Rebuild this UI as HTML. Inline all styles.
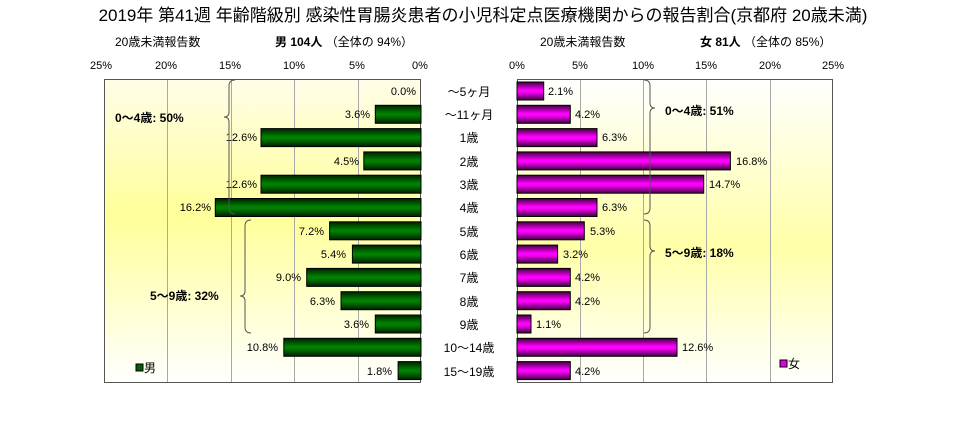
<!DOCTYPE html>
<html><head><meta charset="utf-8"><style>
body{margin:0;background:#fff;}
svg text{font-family:"Liberation Sans","Noto Sans CJK JP",sans-serif;}
</style></head><body>
<svg width="967" height="417" xmlns="http://www.w3.org/2000/svg">
<defs>
<linearGradient id="bgL" x1="0" y1="0" x2="0" y2="1">
<stop offset="0" stop-color="#fffde8"/><stop offset="0.45" stop-color="#ffff99"/><stop offset="1" stop-color="#ffffff"/>
</linearGradient>
<linearGradient id="bgR" x1="0" y1="0" x2="0" y2="1">
<stop offset="0" stop-color="#ffffff"/><stop offset="0.55" stop-color="#ffffa8"/><stop offset="1" stop-color="#ffffff"/>
</linearGradient>
<linearGradient id="gG" x1="0" y1="0" x2="0" y2="1">
<stop offset="0" stop-color="#002000"/><stop offset="0.45" stop-color="#008000"/><stop offset="0.55" stop-color="#008000"/><stop offset="1" stop-color="#002000"/>
</linearGradient>
<linearGradient id="gM" x1="0" y1="0" x2="0" y2="1">
<stop offset="0" stop-color="#400040"/><stop offset="0.45" stop-color="#ff00ff"/><stop offset="0.55" stop-color="#ff00ff"/><stop offset="1" stop-color="#400040"/>
</linearGradient>
</defs>
<text x="483" y="21" font-size="17" text-anchor="middle">2019年 第41週 年齢階級別 感染性胃腸炎患者の小児科定点医療機関からの報告割合(京都府 20歳未満)</text>
<g font-size="12">
<text x="115" y="46">20歳未満報告数</text>
<text x="275" y="46"><tspan font-weight="bold">男 104人</tspan> （全体の 94%）</text>
<text x="540" y="46">20歳未満報告数</text>
<text x="700" y="46"><tspan font-weight="bold">女 81人</tspan> （全体の 85%）</text>
</g>
<g font-size="11" text-anchor="middle">
<text x="101" y="69">25%</text><text x="166" y="69">20%</text><text x="230" y="69">15%</text><text x="294" y="69">10%</text><text x="357" y="69">5%</text><text x="420" y="69">0%</text>
<text x="517" y="69">0%</text><text x="580" y="69">5%</text><text x="643" y="69">10%</text><text x="706" y="69">15%</text><text x="770" y="69">20%</text><text x="833" y="69">25%</text>
</g>
<rect x="104" y="79" width="317" height="304" fill="url(#bgL)"/>
<rect x="517" y="79" width="316" height="304" fill="url(#bgR)"/>
<g stroke="#a8a8a8" stroke-width="1">
<line x1="167.5" y1="79" x2="167.5" y2="383"/><line x1="231.5" y1="79" x2="231.5" y2="383"/><line x1="294.5" y1="79" x2="294.5" y2="383"/><line x1="358.5" y1="79" x2="358.5" y2="383"/>
<line x1="580.5" y1="79" x2="580.5" y2="383"/><line x1="643.5" y1="79" x2="643.5" y2="383"/><line x1="706.5" y1="79" x2="706.5" y2="383"/><line x1="770.5" y1="79" x2="770.5" y2="383"/>
</g>
<rect x="104.5" y="79.5" width="316" height="303" fill="none" stroke="#555"/>
<rect x="517.5" y="79.5" width="315" height="303" fill="none" stroke="#555"/>
<g stroke="#000" stroke-width="1">
<rect x="375.3" y="105.3" width="45.7" height="18" fill="url(#gG)"/>
<rect x="261" y="128.6" width="160" height="18" fill="url(#gG)"/>
<rect x="363.8" y="151.9" width="57.2" height="18" fill="url(#gG)"/>
<rect x="261" y="175.2" width="160" height="18" fill="url(#gG)"/>
<rect x="215.3" y="198.5" width="205.7" height="18" fill="url(#gG)"/>
<rect x="329.6" y="221.8" width="91.4" height="18" fill="url(#gG)"/>
<rect x="352.4" y="245.1" width="68.6" height="18" fill="url(#gG)"/>
<rect x="306.7" y="268.4" width="114.3" height="18" fill="url(#gG)"/>
<rect x="341" y="291.7" width="80" height="18" fill="url(#gG)"/>
<rect x="375.3" y="315" width="45.7" height="18" fill="url(#gG)"/>
<rect x="283.8" y="338.3" width="137.2" height="18" fill="url(#gG)"/>
<rect x="398.1" y="361.6" width="22.9" height="18" fill="url(#gG)"/>
<rect x="517" y="82" width="26.7" height="18" fill="url(#gM)"/>
<rect x="517" y="105.3" width="53.3" height="18" fill="url(#gM)"/>
<rect x="517" y="128.6" width="80" height="18" fill="url(#gM)"/>
<rect x="517" y="151.9" width="213.4" height="18" fill="url(#gM)"/>
<rect x="517" y="175.2" width="186.7" height="18" fill="url(#gM)"/>
<rect x="517" y="198.5" width="80" height="18" fill="url(#gM)"/>
<rect x="517" y="221.8" width="67.3" height="18" fill="url(#gM)"/>
<rect x="517" y="245.1" width="40.6" height="18" fill="url(#gM)"/>
<rect x="517" y="268.4" width="53.3" height="18" fill="url(#gM)"/>
<rect x="517" y="291.7" width="53.3" height="18" fill="url(#gM)"/>
<rect x="517" y="315" width="14" height="18" fill="url(#gM)"/>
<rect x="517" y="338.3" width="160" height="18" fill="url(#gM)"/>
<rect x="517" y="361.6" width="53.3" height="18" fill="url(#gM)"/>
</g>
<g font-size="11" text-anchor="end">
<text x="416" y="95">0.0%</text><text x="370" y="118">3.6%</text><text x="257" y="141">12.6%</text><text x="359" y="165">4.5%</text><text x="257" y="188">12.6%</text><text x="211" y="211">16.2%</text><text x="324" y="235">7.2%</text><text x="346" y="258">5.4%</text><text x="301" y="281">9.0%</text><text x="335" y="305">6.3%</text><text x="369" y="328">3.6%</text><text x="278" y="351">10.8%</text><text x="392" y="375">1.8%</text>
</g>
<g font-size="11">
<text x="548" y="95">2.1%</text><text x="575" y="118">4.2%</text><text x="602" y="141">6.3%</text><text x="736" y="165">16.8%</text><text x="709" y="188">14.7%</text><text x="602" y="211">6.3%</text><text x="590" y="235">5.3%</text><text x="563" y="258">3.2%</text><text x="575" y="281">4.2%</text><text x="575" y="305">4.2%</text><text x="536" y="328">1.1%</text><text x="682" y="351">12.6%</text><text x="575" y="375">4.2%</text>
</g>
<g font-size="12" text-anchor="middle">
<text x="469" y="96">～5ヶ月</text><text x="469" y="119">～11ヶ月</text><text x="469" y="142">1歳</text><text x="469" y="166">2歳</text><text x="469" y="189">3歳</text><text x="469" y="212">4歳</text><text x="469" y="236">5歳</text><text x="469" y="259">6歳</text><text x="469" y="282">7歳</text><text x="469" y="306">8歳</text><text x="469" y="329">9歳</text><text x="469" y="352">10～14歳</text><text x="469" y="376">15～19歳</text>
</g>
<g fill="none" stroke="#555" stroke-width="1">
<path d="M235 80 Q229 80 229 86 L229 112 Q229 117 224 117 Q229 117 229 122 L229 208 Q229 214 235 214"/>
<path d="M251 220 Q245 220 245 226 L245 291 Q245 296 240 296 Q245 296 245 301 L245 327 Q245 333 251 333"/>
<path d="M644 80 Q650 80 650 86 L650 103 Q650 108 655 108 Q650 108 650 113 L650 208 Q650 214 644 214"/>
<path d="M644 220 Q650 220 650 226 L650 246 Q650 251 655 251 Q650 251 650 256 L650 327 Q650 333 644 333"/>
</g>
<g font-size="12" font-weight="bold">
<text x="115" y="122">0～4歳: 50%</text>
<text x="150" y="300">5～9歳: 32%</text>
<text x="665" y="115">0～4歳: 51%</text>
<text x="665" y="257">5～9歳: 18%</text>
</g>
<rect x="136" y="364" width="7" height="7" fill="#006000" stroke="#000"/>
<text x="144" y="372" font-size="12">男</text>
<rect x="780" y="360" width="7" height="7" fill="#e000e0" stroke="#000"/>
<text x="788" y="368" font-size="12">女</text>
</svg>
</body></html>
